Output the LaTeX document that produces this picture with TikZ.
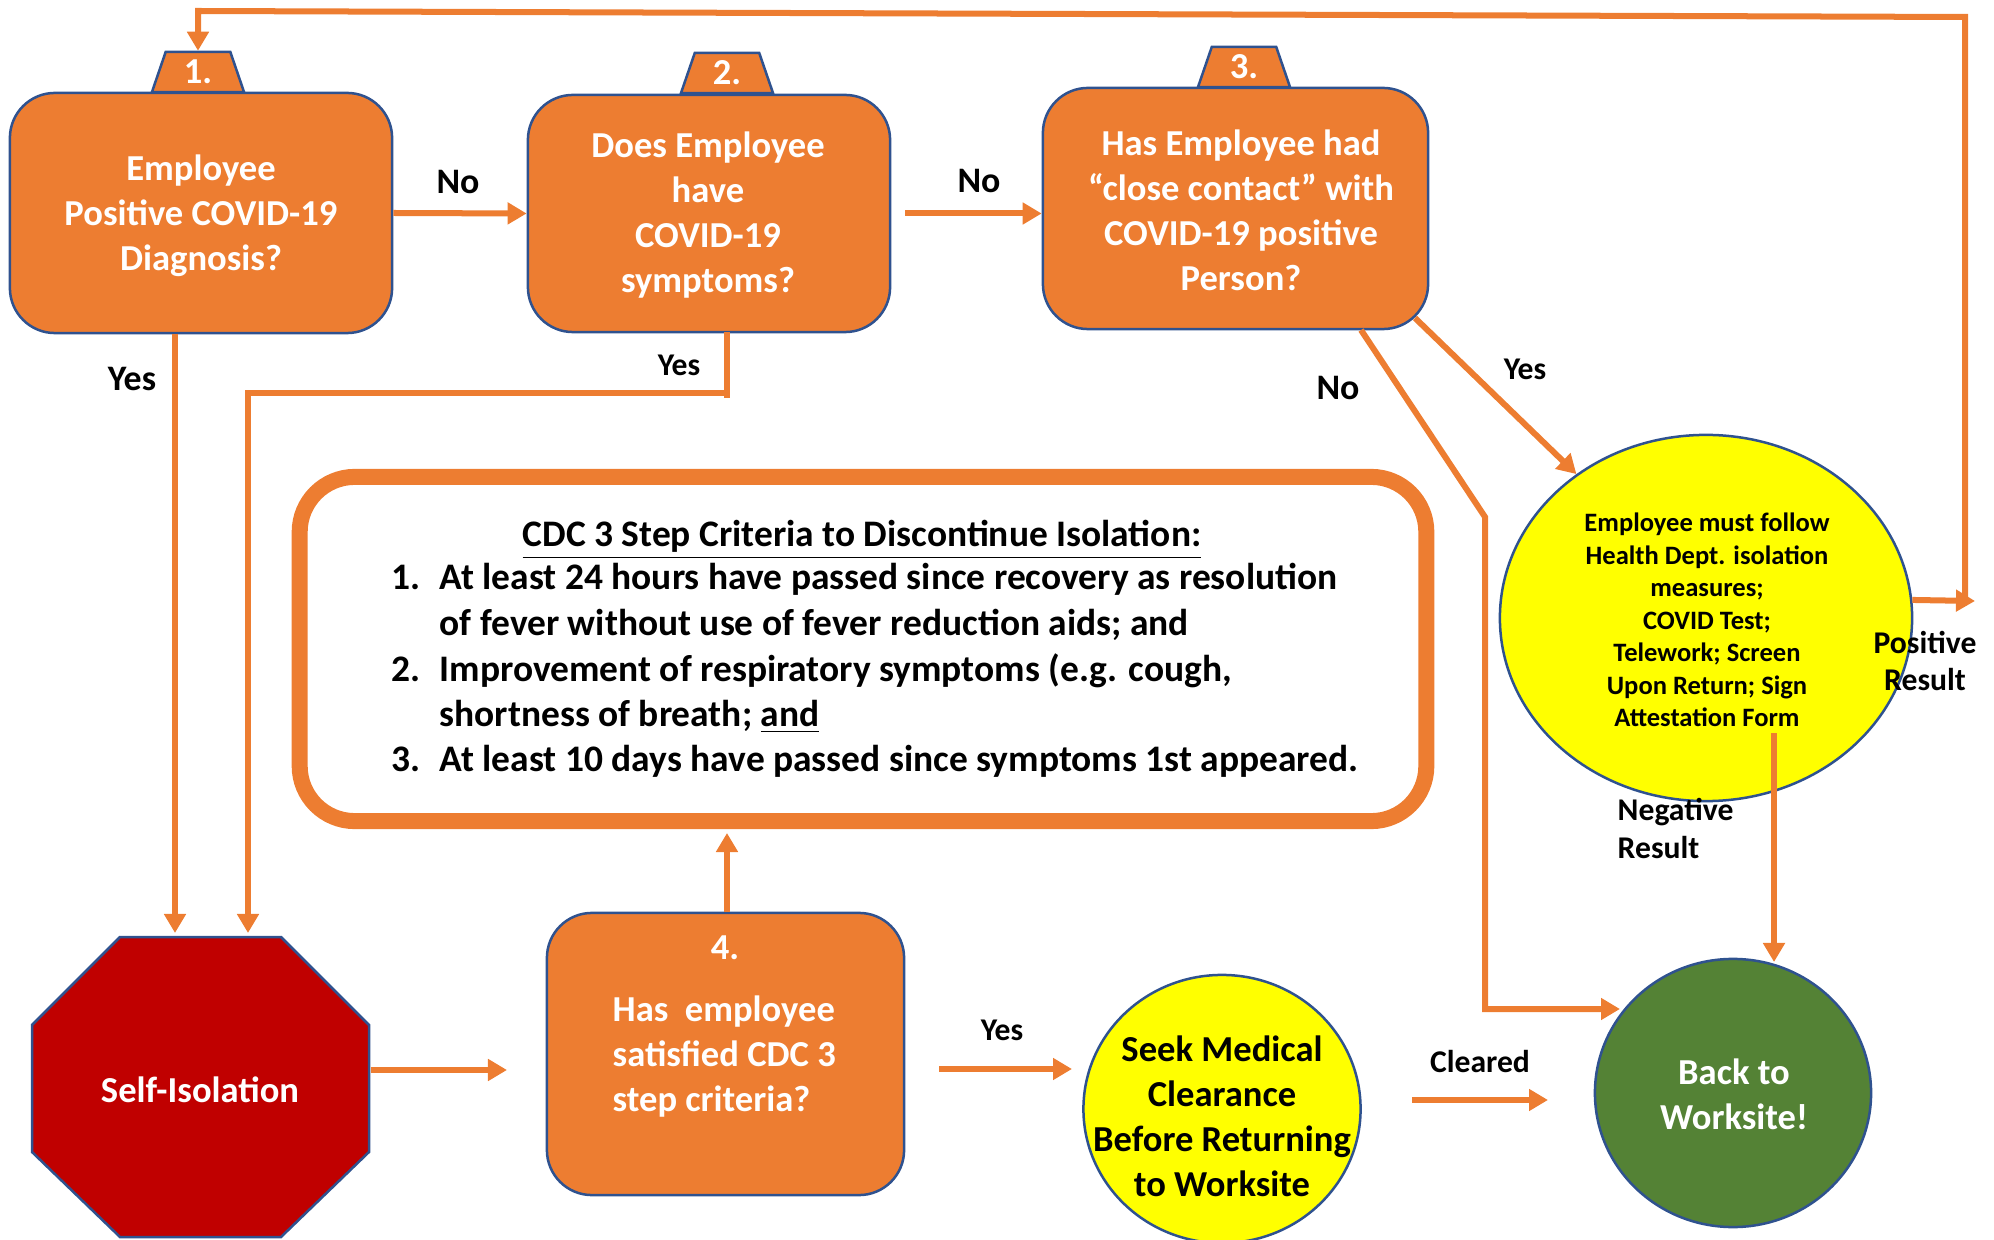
\documentclass[tikz,border=0pt]{standalone}
\usepackage{fontspec}
\setmainfont{Carlito}
\usetikzlibrary{arrows.meta,shapes.geometric}
\definecolor{corange}{HTML}{ED7D31}
\definecolor{cblue}{HTML}{2F528F}
\definecolor{cred}{HTML}{C00000}
\definecolor{cyellow}{HTML}{FFFF00}
\definecolor{cgreen}{HTML}{548235}
\begin{document}
\begin{tikzpicture}[x=0.01cm,y=-0.01cm,
  qbox/.style={draw=cblue, line width=0.025cm, fill=corange, rounded corners=0.45cm, inner sep=0},
  tabbox/.style={trapezium, trapezium stretches=true, draw=cblue, fill=corange, line width=0.025cm,
    minimum width=0.92cm, minimum height=0.40cm, trapezium left angle=76, trapezium right angle=76,
    inner sep=0, text=white, font=\bfseries\fontsize{10.4}{12}\selectfont},
  conn/.style={draw=corange, line width=0.06cm},
  arr/.style={conn, -{Triangle[length=0.19cm,width=0.21cm]}},
  lbl/.style={font=\bfseries\fontsize{10.2}{12}\selectfont, inner sep=0, text=black},
  slbl/.style={font=\bfseries\fontsize{9}{10.8}\selectfont, inner sep=0, text=black},
  btext/.style={text=white, align=center, font=\bfseries\fontsize{10.4}{12.8}\selectfont, inner sep=0},
  cdct/.style={font=\bfseries\fontsize{10.65}{12.5}\selectfont, inner sep=0, text=black},
  ytext/.style={align=center, font=\bfseries\fontsize{7.55}{9.25}\selectfont, inner sep=0, text=black}
]
\useasboundingbox (0,0) rectangle (1994,1240);

% question boxes
\node[qbox, minimum width=3.82cm, minimum height=2.40cm] (box1) at (201,213) {};
\node[qbox, minimum width=3.62cm, minimum height=2.37cm] (box2) at (709,213.5) {};
\node[qbox, minimum width=3.85cm, minimum height=2.41cm] (box3) at (1235.5,208.5) {};
\node[qbox, minimum width=3.57cm, minimum height=2.82cm] (box4) at (725.5,1054) {};

% tabs
\node[tabbox] (tab1) at (198,72) {1.};
\node[tabbox] (tab2) at (727,73) {2.};
\node[tabbox] (tab3) at (1244,67) {3.};

% box texts
\node[btext] (t1) at (201,216) {Employee\\Positive COVID-19\\Diagnosis?};
\node[btext] (t2) at (708,215.5) {Does Employee\\have\\COVID-19\\symptoms?};
\node[btext] (t3) at (1241,210) {Has Employee had\\“close contact” with\\COVID-19 positive\\Person?};
\node[btext] (t4n) at (725,948) {4.};
\node[btext, align=left, anchor=west] (t4) at (612,1057) {Has\ \ employee\\satisfied CDC 3\\step criteria?};

% octagon
\draw[draw=cblue, fill=cred, line width=0.025cm] (120,937) -- (281,937) -- (369,1025) -- (369,1152)
  -- (281,1237) -- (120,1237) -- (32,1152) -- (32,1025) -- cycle;
\node[btext] (self) at (200,1090) {Self-Isolation};
\coordinate (selftopA) at (175,933);
\coordinate (selftopB) at (248,933);
\coordinate (selfright) at (371,1070);

% CDC criteria box
\node[draw=corange, line width=0.16cm, rounded corners=0.55cm, minimum width=11.26cm, minimum height=3.44cm, inner sep=0] (cdc) at (863,649) {};
\node[cdct, anchor=mid] (cdctitle) at (862,538) {\underline{CDC 3 Step Criteria to Discontinue Isolation:}};
\node[cdct, anchor=mid west] (n1) at (391,581) {1.};
\node[cdct, anchor=mid west] (l1) at (439,581) {At least 24 hours have passed since recovery as resolution};
\node[cdct, anchor=mid west] (l1b) at (439,627) {of fever without use of fever reduction aids; and};
\node[cdct, anchor=mid west] (n2) at (391,673) {2.};
\node[cdct, anchor=mid west] (l2) at (439,673) {Improvement of respiratory symptoms (e.g. cough,};
\node[cdct, anchor=mid west] (l2b) at (439,718) {shortness of breath; \underline{and}};
\node[cdct, anchor=mid west] (n3) at (391,763) {3.};
\node[cdct, anchor=mid west] (l3) at (439,763) {At least 10 days have passed since symptoms 1st appeared.};

% ellipses
\node[ellipse, draw=cblue, line width=0.025cm, fill=cyellow, minimum width=4.12cm, minimum height=3.66cm, inner sep=0] (yel) at (1706,618) {};
\node[ytext] (yeltext) at (1707,620) {Employee must follow\\Health Dept. isolation\\measures;\\COVID Test;\\Telework; Screen\\Upon Return; Sign\\Attestation Form};

\node[ellipse, draw=cblue, line width=0.025cm, fill=cyellow, minimum width=2.77cm, minimum height=2.68cm, inner sep=0] (seek) at (1222,1109) {};
\node[btext, text=black] (seektext) at (1222,1116) {Seek Medical\\Clearance\\Before Returning\\to Worksite};

\node[ellipse, draw=cblue, line width=0.025cm, fill=cgreen, minimum width=2.76cm, minimum height=2.68cm, inner sep=0] (back) at (1733,1093) {};
\node[btext] (backtext) at (1734,1094.5) {Back to\\Worksite!};

% connectors
\draw[arr] (box1.east) -- (box2.west);
\node[lbl] (lno1) at (458,182) {No};

\draw[arr] ([xshift=0.14cm]box2.east) -- (box3.west |- box2.east);
\node[lbl] (lno2) at (979,181) {No};

\draw[arr] (box1.south -| selftopA) -- (selftopA);
\node[lbl] (lyes1) at (132,379) {Yes};

\coordinate (b2out) at (727,332);
\draw[conn] (b2out) -- (727,398);
\draw[arr] (727,393) -- (248,393) -- (selftopB);
\node[slbl] (lyes2) at (679,365) {Yes};

\coordinate (b3yes) at (1415,318);
\draw[arr] (b3yes) -- (yel.132);
\node[slbl] (lyes3) at (1525,369) {Yes};

\coordinate (b3no) at (1361,330);
\coordinate (backin) at (1620,1009);
\draw[arr] (b3no) -- (1485,517) -- (1485,1009) -- (backin);
\node[lbl] (lno3) at (1338,388) {No};

\coordinate (negout) at (1774,733);
\coordinate (backtop) at (1774,962);
\draw[arr] (negout) -- (backtop);
\node[slbl, align=left, anchor=west] (lneg) at (1617,828) {Negative\\Result};

\coordinate (posend) at (1975,601);
\draw[arr] (yel.5) -- (posend);
\node[slbl, align=center] (lpos) at (1925,661) {Positive\\Result};
\coordinate (loopA) at (1965,603);
\coordinate (loopB) at (1965,17);
\draw[arr] (loopA) -- (loopB) -- (198,11) -- (tab1.north);

\coordinate (b4in) at (507,1070);
\draw[arr] (selfright) -- (b4in);

\coordinate (cdcin) at (727,833);
\draw[arr] (box4.north -| cdcin) -- (cdcin);

\coordinate (yesA) at (939,1069);
\coordinate (seekin) at (1072,1069);
\draw[arr] (yesA) -- (seekin);
\node[slbl] (lyes4) at (1002,1030) {Yes};

\coordinate (clA) at (1412,1100);
\coordinate (clB) at (1548,1100);
\draw[arr] (clA) -- (clB);
\node[slbl] (lcl) at (1480,1062) {Cleared};
\end{tikzpicture}
\end{document}
